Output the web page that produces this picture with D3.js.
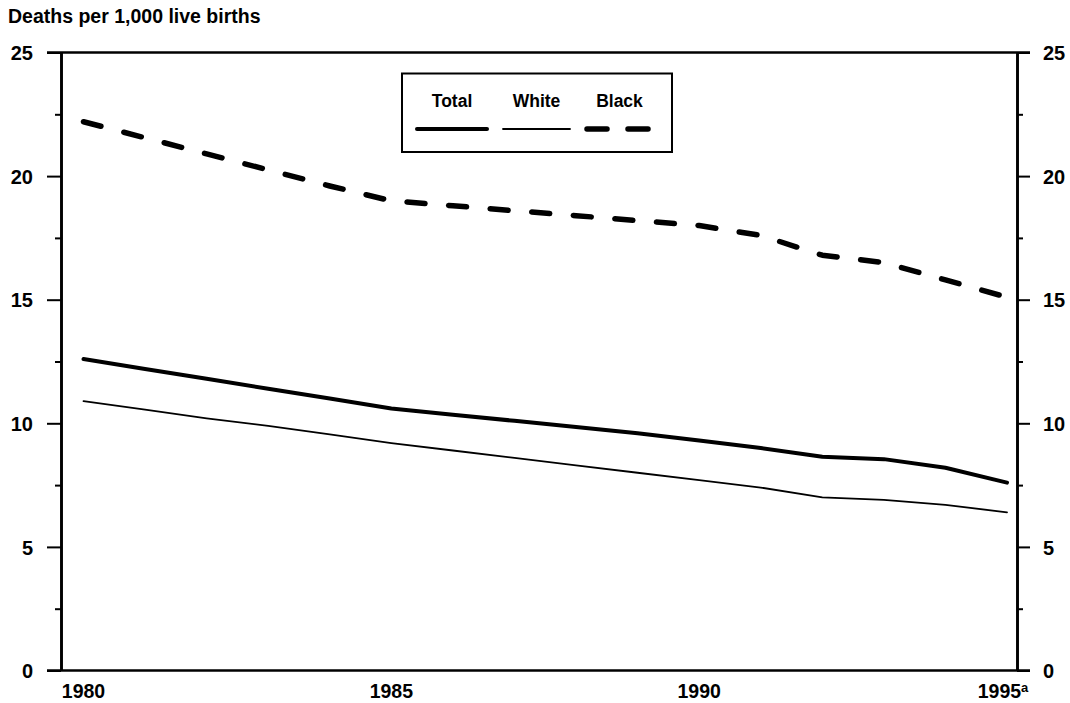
<!DOCTYPE html>
<html>
<head>
<meta charset="utf-8">
<script src="https://cdn.jsdelivr.net/npm/d3@7"></script>
<style>
  html, body { margin: 0; padding: 0; background: #fff; }
  svg { display: block; }
  text { font-family: "Liberation Sans", Arial, Helvetica, sans-serif; font-weight: bold; fill: #000; }
</style>
</head>
<body>
<svg id="chart" width="1070" height="703"></svg>
<script>
// ---- data ----
const years = [1980, 1981, 1982, 1983, 1984, 1985, 1986, 1987, 1988, 1989, 1990, 1991, 1992, 1993, 1994, 1995];
const totalRates = [12.6, 12.2, 11.8, 11.4, 11.0, 10.6, 10.35, 10.1, 9.85, 9.6, 9.3, 9.0, 8.65, 8.55, 8.2, 7.6];
const whiteRates = [10.9, 10.55, 10.2, 9.9, 9.55, 9.2, 8.9, 8.6, 8.3, 8.0, 7.7, 7.4, 7.0, 6.9, 6.7, 6.4];
const blackRates = [22.2, 21.55, 20.9, 20.25, 19.6, 19.0, 18.8, 18.6, 18.4, 18.2, 18.0, 17.6, 16.8, 16.5, 15.8, 15.1];
const yMajorTicks = [0, 5, 10, 15, 20, 25];
const yMinorTicks = [2.5, 7.5, 12.5, 17.5, 22.5];
const xTickYears = [1980, 1985, 1990, 1995];
const xTickLabels = ["1980", "1985", "1990", "1995"];
const xTickNotes = ["", "", "", "a"];
const seriesNames = ["Total", "White", "Black"];
const yTitle = "Deaths per 1,000 live births";

// ---- layout ----
const svg = d3.select("#chart");
const frameLeft = 61, frameRight = 1017;
const x = d3.scaleLinear().domain([1980, 1995]).range([83.5, 1007]);
const y = d3.scaleLinear().domain([0, 25]).range([670.5, 52.5]);

const styles = {
  Total: { width: 4, dash: null },
  White: { width: 1.8, dash: null },
  Black: { width: 5.5, dash: "18,23.7" }
};
const seriesData = {
  Total: totalRates,
  White: whiteRates,
  Black: blackRates
};

// title
svg.append("text").attr("x", 8).attr("y", 23).style("font-size", "19.5px").text(yTitle);

// frame: top & bottom lines extend to the major ticks
[25, 0].forEach(v => {
  svg.append("line")
    .attr("x1", frameLeft - 14).attr("x2", frameRight + 13)
    .attr("y1", y(v)).attr("y2", y(v))
    .attr("stroke", "#000").attr("stroke-width", 2.6);
});

// left axis
const gL = svg.append("g").attr("transform", `translate(${frameLeft},0)`);
gL.call(d3.axisLeft(y).tickValues(yMajorTicks).tickSize(14).tickSizeOuter(0).tickFormat(d3.format("d")));
const gLm = svg.append("g").attr("transform", `translate(${frameLeft},0)`);
gLm.call(d3.axisLeft(y).tickValues(yMinorTicks).tickSize(6).tickSizeOuter(0).tickFormat(""));

// right axis
const gR = svg.append("g").attr("transform", `translate(${frameRight},0)`);
gR.call(d3.axisRight(y).tickValues(yMajorTicks).tickSize(13).tickSizeOuter(0).tickFormat(d3.format("d")));
const gRm = svg.append("g").attr("transform", `translate(${frameRight},0)`);
gRm.call(d3.axisRight(y).tickValues(yMinorTicks).tickSize(6).tickSizeOuter(0).tickFormat(""));

[gL, gLm, gR, gRm].forEach(g => {
  g.select(".domain").attr("stroke", "#000").attr("stroke-width", 2.6);
  g.selectAll(".tick line").attr("stroke", "#000").attr("stroke-width", 2);
  g.selectAll(".tick text")
    .style("font-family", '"Liberation Sans", Arial, sans-serif')
    .style("font-weight", "bold")
    .style("font-size", "20px")
    .attr("fill", "#000");
});
gL.selectAll(".tick text").attr("x", -28).attr("dy", "0.36em");
gR.selectAll(".tick text").attr("x", 26).attr("dy", "0.36em");

// x labels (no ticks)
const xl = svg.append("g");
xTickYears.forEach((yr, i) => {
  const t = xl.append("text")
    .attr("x", x(yr) + (i === 3 ? -4 : 0))
    .attr("y", 698)
    .attr("text-anchor", "middle")
    .style("font-size", "19.5px")
    .text(xTickLabels[i]);
  if (xTickNotes[i]) {
    t.append("tspan").attr("dy", -6).style("font-size", "13px").text(xTickNotes[i]);
  }
});

// lines
const line = d3.line().x((d, i) => x(years[i])).y(d => y(d));
seriesNames.forEach(name => {
  svg.append("path")
    .datum(seriesData[name])
    .attr("d", line)
    .attr("fill", "none")
    .attr("stroke", "#000")
    .attr("stroke-width", styles[name].width)
    .attr("stroke-linecap", "round")
    .attr("stroke-linejoin", "round")
    .attr("stroke-dasharray", styles[name].dash);
});

// legend
const lg = svg.append("g");
lg.append("rect").attr("x", 402).attr("y", 73.5).attr("width", 270).attr("height", 78.5)
  .attr("fill", "#fff").attr("stroke", "#000").attr("stroke-width", 2);
const legendPos = { Total: [417, 487], White: [503, 570], Black: [587, 652] };
seriesNames.forEach(name => {
  const [a, b] = legendPos[name];
  lg.append("text").attr("x", (a + b) / 2).attr("y", 107)
    .attr("text-anchor", "middle").style("font-size", "17.5px").text(name);
  lg.append("line").attr("x1", a).attr("x2", b).attr("y1", 129).attr("y2", 129)
    .attr("stroke", "#000")
    .attr("stroke-width", styles[name].width)
    .attr("stroke-linecap", "round")
    .attr("stroke-dasharray", name === "Black" ? "20,21" : null);
});
</script>
</body>
</html>
